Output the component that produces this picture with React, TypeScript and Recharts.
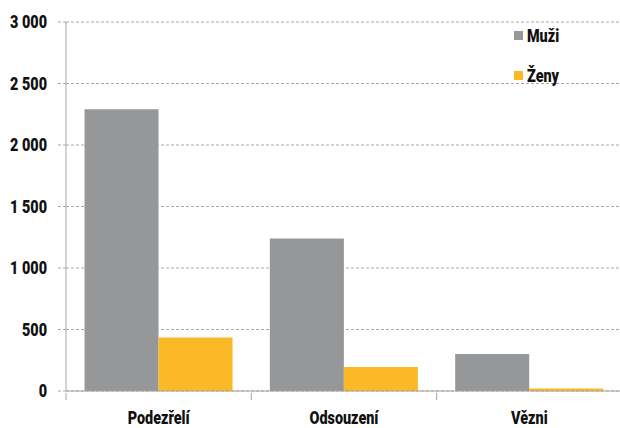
import { Bar, BarChart, CartesianGrid, XAxis, YAxis } from "recharts";

const categories = ["Podezřelí", "Odsouzení", "Vězni"];
const muzi = [2290, 1240, 300];
const zeny = [435, 195, 20];
const yTicks = [0, 500, 1000, 1500, 2000, 2500, 3000];
const seriesNames = ["Muži", "Ženy"];

const data = categories.map((name, i) => ({ name, muzi: muzi[i], zeny: zeny[i] }));

const FONT = "Roboto, 'Noto Sans', sans-serif";
const SQUEEZE = 0.8;
const GRAY = "#959799";
const YELLOW = "#fbb925";
const GRID = "#b3a59d";
const AXIS = "#a8a39f";

const CHART_W = 622;
const Y_W = 66;

function fmt(v: number) {
  return String(v).replace(/\B(?=(\d{3})+(?!\d))/g, " ");
}

function NarrowText({ x, y, anchor, dy, children }: any) {
  return (
    <text
      transform={`translate(${x},${y}) scale(${SQUEEZE},1)`}
      x={0}
      y={0}
      dy={dy}
      textAnchor={anchor}
      fontFamily={FONT}
      fontWeight={900}
      fontSize={18}
      fill="#111"
    >
      {children}
    </text>
  );
}

function ValueTick(props: any) {
  const { x, y, payload } = props;
  return (
    <NarrowText x={x} y={y} anchor="end" dy="0.36em">
      {fmt(payload.value)}
    </NarrowText>
  );
}

function CategoryTick(props: any) {
  const { x, y, payload } = props;
  const half = payload?.offset ?? (CHART_W - Y_W) / categories.length / 2;
  return (
    <g>
      <line x1={x - half} x2={x - half} y1={y - 7} y2={y} stroke={AXIS} strokeWidth={1} />
      <NarrowText x={x} y={y + 11} anchor="middle" dy="0.71em">
        {payload.value}
      </NarrowText>
    </g>
  );
}

function LegendBox() {
  const colors = [GRAY, YELLOW];
  return (
    <div style={{ position: "absolute", left: 514, top: 24, fontFamily: FONT, fontWeight: 900, fontSize: 18, color: "#111" }}>
      {seriesNames.map((name, i) => (
        <div key={name} style={{ display: "flex", alignItems: "center", height: 22, marginBottom: 18 }}>
          <span style={{ display: "inline-block", width: 9, height: 9, background: colors[i], marginRight: 4 }} />
          <span style={{ display: "inline-block", transform: `scaleX(${SQUEEZE})`, transformOrigin: "left center" }}>{name}</span>
        </div>
      ))}
    </div>
  );
}

export default function App() {
  return (
    <div style={{ position: "absolute", left: 0, top: 0, width: 620, height: 428, overflow: "hidden", background: "#fff" }}>
      <BarChart
        width={CHART_W}
        height={428}
        data={data}
        margin={{ top: 22, right: 0, bottom: 0, left: 0 }}
        barCategoryGap="10%"
        barGap={0}
      >
        <CartesianGrid horizontal vertical={false} stroke={GRID} strokeDasharray="3 2" />
        <YAxis
          width={Y_W}
          domain={[0, 3000]}
          ticks={yTicks}
          interval={0}
          axisLine={{ stroke: AXIS }}
          tickLine={{ stroke: GRID, strokeDasharray: "3 2" }}
          tickSize={8}
          tickMargin={11}
          tick={<ValueTick />}
        />
        <XAxis
          dataKey="name"
          height={37}
          axisLine={{ stroke: AXIS }}
          tickLine={false}
          tickSize={7}
          tick={<CategoryTick />}
          interval={0}
        />
        <Bar dataKey="muzi" name={seriesNames[0]} fill={GRAY} isAnimationActive={false} />
        <Bar dataKey="zeny" name={seriesNames[1]} fill={YELLOW} isAnimationActive={false} />
      </BarChart>
      <LegendBox />
    </div>
  );
}
